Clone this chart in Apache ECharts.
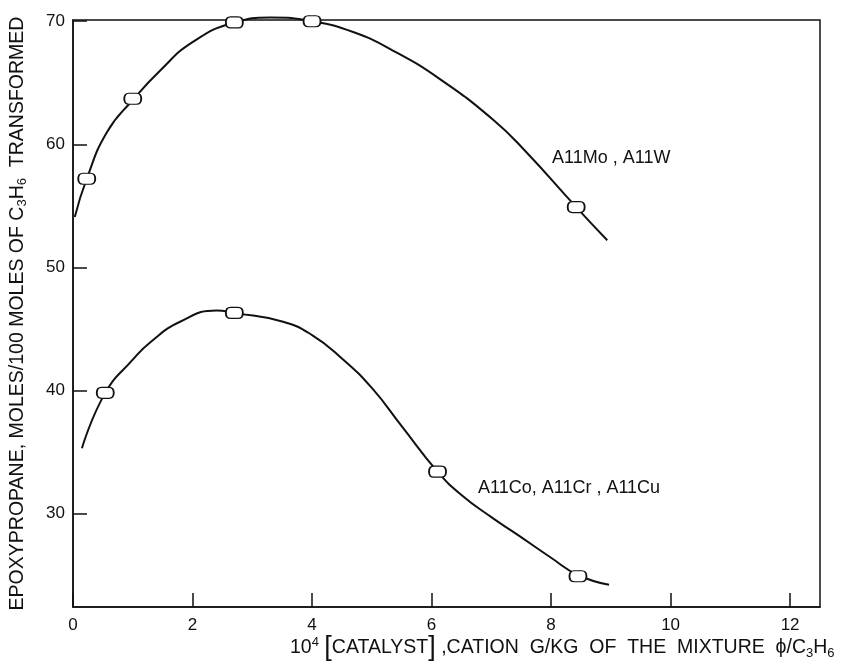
<!DOCTYPE html>
<html>
<head>
<meta charset="utf-8">
<script src="https://cdn.jsdelivr.net/npm/echarts@6/dist/echarts.min.js"></script>
<style>
  html, body { margin: 0; padding: 0; background: #fff; }
  #chart { width: 847px; height: 671px; }
</style>
</head>
<body>
<div id="chart"></div>
<script>
// values
var xTicks = [0, 2, 4, 6, 8, 10, 12];
var yTicks = [30, 40, 50, 60, 70];

// A11Mo, A11W : measured points and the drawn curve
var moPoints = [[0.23, 57.2], [1.0, 63.7], [2.7, 69.9], [4.0, 70.0], [8.42, 54.9]];
var moCurve = [[0.03, 54.1], [0.23, 57.2], [0.57, 61.0], [1.0, 63.6], [1.46, 66.0], [2.0, 68.3],
  [2.7, 69.9], [3.3, 70.3], [4.0, 70.0], [4.7, 69.1], [5.36, 67.6], [6.14, 65.3], [7.03, 62.0],
  [7.56, 59.5], [8.42, 54.9], [8.94, 52.2]];

// A11Co, A11Cr, A11Cu
var coPoints = [[0.54, 39.8], [2.7, 46.3], [6.1, 33.4], [8.45, 24.9]];
var coCurve = [[0.15, 35.3], [0.54, 39.8], [1.0, 42.5], [1.29, 43.9], [1.8, 45.6], [2.4, 46.5],
  [2.7, 46.3], [3.5, 45.6], [4.0, 44.5], [4.5, 42.6], [5.0, 40.2], [5.5, 37.1],
  [6.1, 33.4], [6.5, 31.5], [7.0, 29.7], [7.43, 28.3], [8.0, 26.4], [8.45, 25.0], [8.97, 24.2]];

var font = 'Liberation Sans';
var ink = '#111';
var pill = 'path://M5,0 H13 C16,0 18,2 18,5 C18,8 16,10 13,10 H5 C2,10 0,8 0,5 C0,2 2,0 5,0 Z';

var chart = echarts.init(document.getElementById('chart'));

var option = {
  animation: false,
  backgroundColor: '#fff',
  grid: {
    left: 73, right: 27, top: 20, bottom: 64,
    outerBoundsMode: 'none',
    show: true, borderColor: ink, borderWidth: 1.5
  },
  xAxis: {
    type: 'value', min: 0, max: 12.5,
    splitLine: { show: false },
    axisLine: { lineStyle: { color: ink, width: 1.5 } },
    axisTick: { inside: true, length: 14, customValues: xTicks, lineStyle: { color: ink, width: 1.5 } },
    axisLabel: { customValues: xTicks, margin: 10, color: ink, fontSize: 17, fontFamily: font }
  },
  yAxis: {
    type: 'value', min: 22.4, max: 70.1,
    name: '{a|EPOXYPROPANE, MOLES/100 MOLES OF C}{sub|3}{a|H}{sub|6}{a|  TRANSFORMED}',
    nameLocation: 'middle', nameRotate: 90, nameGap: 44,
    nameTextStyle: {
      color: ink, fontSize: 19.5, fontFamily: font,
      rich: {
        a: { fontSize: 19.5, fontFamily: font, color: ink },
        sub: { fontSize: 13, fontFamily: font, color: ink, padding: [10, 0, 0, 0] }
      }
    },
    splitLine: { show: false },
    axisLine: { lineStyle: { color: ink, width: 1.5 } },
    axisTick: { inside: true, length: 14, customValues: yTicks, lineStyle: { color: ink, width: 1.5 } },
    axisLabel: { customValues: yTicks, margin: 8, color: ink, fontSize: 17, fontFamily: font }
  },
  graphic: [
    {
      type: 'text', left: 552, top: 149,
      style: { text: 'A11Mo , A11W', fill: ink, fontSize: 18, fontFamily: font }
    },
    {
      type: 'text', left: 478, top: 479,
      style: { text: 'A11Co, A11Cr , A11Cu', fill: ink, fontSize: 18, fontFamily: font }
    },
    {
      type: 'text', left: 290, top: 634,
      style: {
        text: '{a|10}{sup|4}{a| }{br|[}{a|CATALYST}{br|]}{a| ,CATION  G/KG  OF  THE  MIXTURE  ϕ/C}{sub|3}{a|H}{sub|6}',
        fill: ink, fontFamily: font,
        rich: {
          a: { fontSize: 19.5, fontFamily: font, fill: ink },
          br: { fontSize: 27, fontFamily: font, fill: ink },
          sup: { fontSize: 13, fontFamily: font, fill: ink, padding: [0, 0, 11, 0] },
          sub: { fontSize: 13, fontFamily: font, fill: ink, padding: [11, 0, 0, 0] }
        }
      }
    }
  ],
  series: [
    {
      type: 'line', data: moCurve, smooth: 0.5, showSymbol: false, clip: false,
      lineStyle: { color: ink, width: 2 }, z: 2
    },
    {
      type: 'line', data: coCurve, smooth: 0.5, showSymbol: false, clip: false,
      lineStyle: { color: ink, width: 2 }, z: 2
    },
    {
      type: 'scatter', data: moPoints, symbol: pill, symbolSize: [17, 11], clip: false,
      itemStyle: { color: '#fff', borderColor: ink, borderWidth: 1.5, opacity: 1 }, z: 3
    },
    {
      type: 'scatter', data: coPoints, symbol: pill, symbolSize: [17, 11], clip: false,
      itemStyle: { color: '#fff', borderColor: ink, borderWidth: 1.5, opacity: 1 }, z: 3
    }
  ]
};

chart.setOption(option);
</script>
</body>
</html>
